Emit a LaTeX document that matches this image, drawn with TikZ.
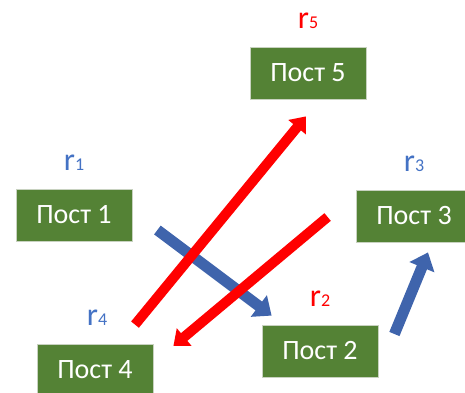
\documentclass[tikz,border=0pt]{standalone}
\usepackage{fontspec}
\setmainfont{Carlito}
\usepackage{tikz}
\usetikzlibrary{arrows.meta,positioning,calc}
\definecolor{postgreen}{HTML}{548235}
\definecolor{postedge}{HTML}{C8D2C0}
\definecolor{flowblue}{HTML}{3F64AC}
\definecolor{labblue}{HTML}{4472C4}
\newcommand{\rsub}[1]{{\fontsize{32}{32}\selectfont r}{\fontsize{18}{18}\selectfont #1}}

\begin{document}
\begin{tikzpicture}[x=1pt, y=1pt,
  post/.style={draw=postedge, line width=0.8pt, fill=postgreen, text=white, minimum width=116pt, minimum height=52pt, inner sep=0pt, font=\fontsize{28}{32}\selectfont},
  rlab/.style={inner sep=0pt, above=18pt of #1},
  arrb/.style={-{Triangle[length=16pt, width=26pt]}, line width=11pt, flowblue},
  arrr/.style={-{Triangle[length=14pt, width=22pt]}, line width=10pt, red}]
\useasboundingbox (0,0) rectangle (465,392);
\node[post] (p1) at (74,177) {Пост 1};
\node[post] (p2) at (320,41) {Пост 2};
\node[post] (p3) at (414,176) {Пост 3};
\node[post] (p4) at (95,22) {Пост 4};
\node[post] (p5) at (308,319) {Пост 5};
\node[rlab=p1, text=labblue] (r1) {\rsub{1}};
\node[rlab=p2, text=red] (r2) {\rsub{2}};
\node[rlab=p3, text=labblue] (r3) {\rsub{3}};
\node[rlab=p4, text=labblue, xshift=2pt] (r4) {\rsub{4}};
\node[rlab=p5, text=red] (r5) {\rsub{5}};
% free ends of the flows
\coordinate (a12s) at ($(p1.east)+(25,-15)$);
\coordinate (a12e) at ($(p2.north west)+(10,9)$);
\coordinate (a23s) at ($(p2.east)+(16,17)$);
\coordinate (a23e) at ($(p3.south)+(14,-10)$);
\coordinate (a45s) at ($(p4.north)+(40,19)$);
\coordinate (a45e) at ($(p5.south)+(-2,-17)$);
\coordinate (a34s) at ($(p3.west)+(-28,-1)$);
\coordinate (a34e) at ($(p4.east)+(20,24)$);
\draw[arrb] (a12s) -- (a12e); \draw[arrb] (a23s) -- (a23e);
\draw[arrr] (a45s) -- (a45e); \draw[arrr] (a34s) -- (a34e);
\end{tikzpicture}
\end{document}
